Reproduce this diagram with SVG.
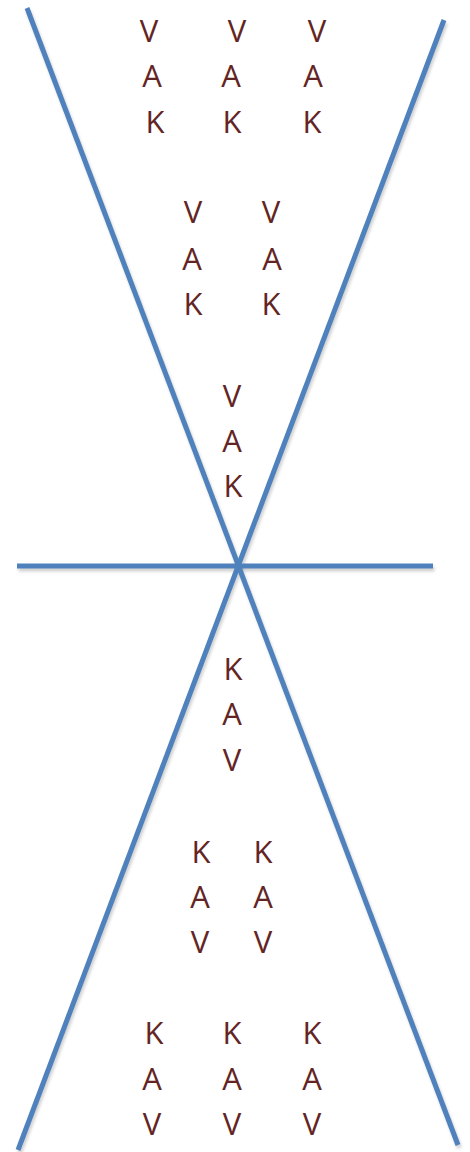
<svg xmlns="http://www.w3.org/2000/svg" width="470" height="1152" viewBox="0 0 470 1152">
<style>
.ln{stroke:#4f81bd;stroke-width:5;fill:none}
.sh{stroke:#000;stroke-opacity:0.18;stroke-width:5;fill:none}
text{font-family:"Open Sans","Noto Sans",sans-serif;font-size:31px;fill:#632523;text-anchor:middle}
</style>
<defs><filter id="blur" x="-10%" y="-10%" width="120%" height="120%"><feGaussianBlur stdDeviation="1.5"/></filter></defs>
<rect width="470" height="1152" fill="#fff"/>
<g id="connectors">
<g filter="url(#blur)" transform="translate(1.5,3)">
<line class="sh" x1="27" y1="8" x2="458" y2="1145"/>
<line class="sh" x1="444" y1="20" x2="18" y2="1150"/>
<line class="sh" x1="17" y1="566" x2="433" y2="566"/>
</g>
<line class="ln" x1="27" y1="8" x2="458" y2="1145"/>
<line class="ln" x1="444" y1="20" x2="18" y2="1150"/>
<line class="ln" x1="17" y1="566" x2="433" y2="566"/>
</g>
<g id="top-row1">
<text x="149" y="42">V</text><text x="152" y="87">A</text><text x="155" y="133">K</text>
<text x="237" y="42">V</text><text x="231" y="87">A</text><text x="232" y="133">K</text>
<text x="317" y="42">V</text><text x="313" y="87">A</text><text x="312" y="133">K</text>
</g>
<g id="top-row2">
<text x="193" y="223">V</text><text x="192" y="270">A</text><text x="193" y="315">K</text>
<text x="271" y="223">V</text><text x="272" y="270">A</text><text x="271" y="315">K</text>
</g>
<g id="top-row3">
<text x="232" y="407">V</text><text x="232" y="452">A</text><text x="233" y="497">K</text>
</g>
<g id="bottom-row1">
<text x="233" y="680">K</text><text x="232" y="725">A</text><text x="232" y="771">V</text>
</g>
<g id="bottom-row2">
<text x="201" y="863">K</text><text x="200" y="908">A</text><text x="200" y="953">V</text>
<text x="263" y="863">K</text><text x="263" y="908">A</text><text x="263" y="953">V</text>
</g>
<g id="bottom-row3">
<text x="154" y="1044">K</text><text x="152" y="1090">A</text><text x="152" y="1135">V</text>
<text x="232" y="1044">K</text><text x="232" y="1090">A</text><text x="232" y="1135">V</text>
<text x="312" y="1044">K</text><text x="312" y="1090">A</text><text x="312" y="1135">V</text>
</g>
</svg>
